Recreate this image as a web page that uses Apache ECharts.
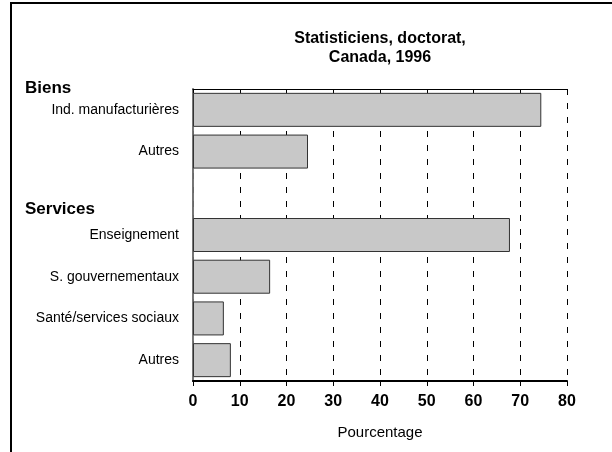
<!DOCTYPE html>
<html>
<head>
<meta charset="utf-8">
<script src="https://cdn.jsdelivr.net/npm/echarts@6/dist/echarts.min.js"></script>
<style>
  html, body { margin: 0; padding: 0; background: #fff; }
  #chart { width: 612px; height: 452px; }
</style>
</head>
<body>
<div id="chart"></div>
<script>
// données
const categories = [
  "Ind. manufacturières",
  "Autres",
  "",
  "Enseignement",
  "S. gouvernementaux",
  "Santé/services sociaux",
  "Autres",
];
const values = [74.5, 24.6, null, 67.8, 16.5, 6.6, 8.1];
const groupTitles = ["Biens", "Services"];
const xTicks = [0, 10, 20, 30, 40, 50, 60, 70, 80];

const font = 'Arial, "Liberation Sans", sans-serif';
const chart = echarts.init(document.getElementById("chart"));

const option = {
  animation: false,
  backgroundColor: "#fff",
  textStyle: { fontFamily: font, color: "#000" },
  grid: { left: 193, right: 45, top: 89, bottom: 71 },
  xAxis: [
    {
      type: "value",
      position: "bottom",
      min: xTicks[0],
      max: xTicks[xTicks.length - 1],
      interval: 10,
      axisLine: { show: true, lineStyle: { color: "#000", width: 2 } },
      axisTick: { show: true, length: 5, lineStyle: { color: "#000" } },
      axisLabel: {
        margin: 13,
        color: "#000",
        fontSize: 16,
        fontWeight: "bold",
        fontFamily: font,
      },
      splitLine: {
        show: true,
        lineStyle: { color: "#000", type: [6, 8], width: 1 },
      },
      name: "Pourcentage",
      nameLocation: "middle",
      nameGap: 44,
      nameTextStyle: { color: "#000", fontSize: 15, fontFamily: font },
    },
    {
      // bord du haut avec petites graduations
      type: "value",
      position: "top",
      min: 0,
      max: 80,
      interval: 10,
      axisLine: { show: true, lineStyle: { color: "#000", width: 1 } },
      axisTick: { show: true, inside: true, length: 4, lineStyle: { color: "#000" } },
      axisLabel: { show: false },
      splitLine: { show: false },
    },
  ],
  yAxis: [
    {
      type: "category",
      inverse: true,
      data: categories.map((c, i) => String(i)),
      axisLine: { show: true, lineStyle: { color: "#000", width: 1.5 } },
      axisTick: { show: false },
      axisLabel: {
        margin: 14,
        color: "#000",
        fontSize: 14,
        fontFamily: font,
        formatter: (v) => categories[+v],
      },
    },
    {
      type: "category",
      position: "right",
      inverse: true,
      data: categories.map((c, i) => String(i)),
      axisLine: { show: true, lineStyle: { color: "#888", width: 1.5 } },
      axisTick: { show: false },
      axisLabel: { show: false },
    },
  ],
  series: [
    {
      type: "bar",
      data: values,
      barWidth: 34,
      itemStyle: { color: "#c8c8c8", borderColor: "#333", borderWidth: 1 },
      z: 3,
    },
  ],
  graphic: [
    { type: "line", shape: { x1: 11, y1: 3, x2: 11, y2: 452 }, style: { stroke: "#000", lineWidth: 2 } },
    { type: "line", shape: { x1: 10, y1: 3, x2: 612, y2: 3 }, style: { stroke: "#000", lineWidth: 2 } },
    {
      type: "text",
      x: 380,
      y: 29,
      style: {
        text: "Statisticiens, doctorat,\nCanada, 1996",
        font: "bold 16px " + font,
        fill: "#000",
        align: "center",
        lineHeight: 19,
      },
    },
    {
      type: "text",
      x: 25,
      y: 80,
      style: { text: groupTitles[0], font: "bold 17px " + font, fill: "#000" },
    },
    {
      type: "text",
      x: 25,
      y: 201,
      style: { text: groupTitles[1], font: "bold 17px " + font, fill: "#000" },
    },
  ],
};

chart.setOption(option);
</script>
</body>
</html>
